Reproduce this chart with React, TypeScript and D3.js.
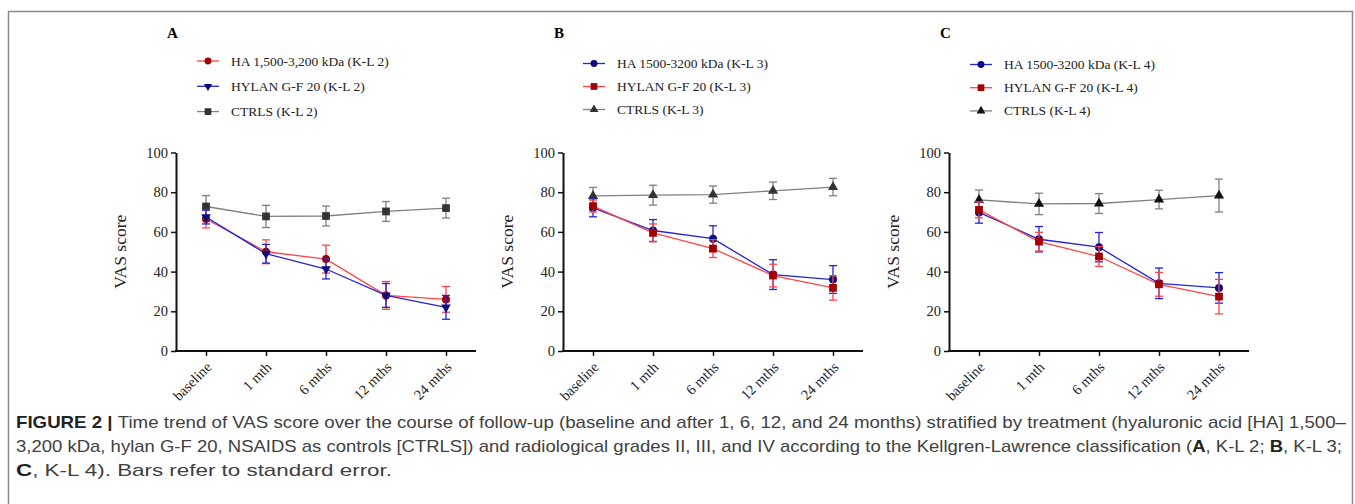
import React, { useEffect, useRef } from 'react';
import * as d3 from 'd3';

// time points shared by all three panels
const timepoints = ['baseline', '1 mth', '6 mths', '12 mths', '24 mths'];
const yTicks = [0, 20, 40, 60, 80, 100];

// Panel A (K-L 2)
const haA = [66.5, 50, 46.3, 28, 26];
const haA_se = [4.5, 6, 7, 7, 6.5];
const hylanA = [67.5, 49, 41.3, 28, 22];
const hylanA_se = [3.5, 4.7, 5, 6, 6];
const ctrlA = [72.8, 67.8, 68, 70.3, 72];
const ctrlA_se = [5.5, 5.6, 5, 5, 5];

// Panel B (K-L 3)
const haB = [72.1, 60.7, 56.6, 38.5, 36];
const haB_se = [4.5, 5.5, 6.5, 7.5, 7];
const hylanB = [73, 59.5, 51.6, 38, 31.8];
const hylanB_se = [3, 4.5, 4.5, 5.7, 6.2];
const ctrlB = [78.1, 78.5, 78.8, 80.7, 82.6];
const ctrlB_se = [4.3, 5, 4.3, 4.4, 4.4];

// Panel C (K-L 4)
const haC = [69.8, 56.3, 52.3, 34.1, 31.8];
const haC_se = [5.4, 6.4, 7.4, 7.7, 7.7];
const hylanC = [71.1, 55.1, 47.6, 33.6, 27.4];
const hylanC_se = [4, 4.7, 5, 6, 8.7];
const ctrlC = [76.1, 74.1, 74.3, 76.3, 78.3];
const ctrlC_se = [5, 5.4, 5, 4.7, 8.3];

const RED_LINE = '#ff4545';
const RED_MARK = '#a00000';
const BLUE_LINE = '#2424d8';
const BLUE_MARK = '#0b0b80';
const GRAY_LINE = '#808080';
const GRAY_MARK = '#333333';

type Series = {
  label: string;
  values: number[];
  se: number[];
  line: string;
  mark: string;
  symbol: d3.SymbolType;
  rotate?: number;
  size: number;
};

type PanelDef = {
  letter: string;
  axisX: number;
  legendX: number;
  legendY: number;
  legendStep: number;
  legendOrder: number[];
  series: Series[]; // drawn in order
};

const panels: PanelDef[] = [
  {
    letter: 'A',
    axisX: 176,
    legendX: 197,
    legendY: 61,
    legendStep: 25.3,
    legendOrder: [1, 2, 0],
    series: [
      { label: 'CTRLS (K-L 2)', values: ctrlA, se: ctrlA_se, line: GRAY_LINE, mark: GRAY_MARK, symbol: d3.symbolSquare, size: 60 },
      { label: 'HA 1,500-3,200 kDa (K-L 2)', values: haA, se: haA_se, line: RED_LINE, mark: RED_MARK, symbol: d3.symbolCircle, size: 50 },
      { label: 'HYLAN G-F 20 (K-L 2)', values: hylanA, se: hylanA_se, line: BLUE_LINE, mark: BLUE_MARK, symbol: d3.symbolTriangle, rotate: 180, size: 40 },
    ],
  },
  {
    letter: 'B',
    axisX: 563,
    legendX: 583,
    legendY: 63.5,
    legendStep: 23,
    legendOrder: [1, 2, 0],
    series: [
      { label: 'CTRLS (K-L 3)', values: ctrlB, se: ctrlB_se, line: GRAY_LINE, mark: GRAY_MARK, symbol: d3.symbolTriangle, size: 45 },
      { label: 'HA 1500-3200 kDa (K-L 3)', values: haB, se: haB_se, line: BLUE_LINE, mark: BLUE_MARK, symbol: d3.symbolCircle, size: 50 },
      { label: 'HYLAN G-F 20 (K-L 3)', values: hylanB, se: hylanB_se, line: RED_LINE, mark: RED_MARK, symbol: d3.symbolSquare, size: 60 },
    ],
  },
  {
    letter: 'C',
    axisX: 949,
    legendX: 970,
    legendY: 64.5,
    legendStep: 23.2,
    legendOrder: [1, 2, 0],
    series: [
      { label: 'CTRLS (K-L 4)', values: ctrlC, se: ctrlC_se, line: GRAY_LINE, mark: '#111111', symbol: d3.symbolTriangle, size: 45 },
      { label: 'HA 1500-3200 kDa (K-L 4)', values: haC, se: haC_se, line: BLUE_LINE, mark: BLUE_MARK, symbol: d3.symbolCircle, size: 50 },
      { label: 'HYLAN G-F 20 (K-L 4)', values: hylanC, se: hylanC_se, line: RED_LINE, mark: RED_MARK, symbol: d3.symbolSquare, size: 60 },
    ],
  },
];

const SERIF = '"Liberation Serif", "DejaVu Serif", serif';
const SANS = '"Liberation Sans", Arial, sans-serif';

function drawPanel(svg: d3.Selection<SVGSVGElement, unknown, null, undefined>, p: PanelDef) {
  const g = svg.append('g').style('font-family', SERIF);
  const y = d3.scaleLinear().domain([0, 100]).range([351, 152.5]);
  const x = d3.scalePoint<string>().domain(timepoints).range([p.axisX + 30, p.axisX + 270]);

  // panel letter
  g.append('text')
    .attr('x', p.axisX - 9)
    .attr('y', 38)
    .style('font-family', SERIF)
    .attr('font-weight', 'bold')
    .attr('font-size', 15)
    .text(p.letter);

  // y axis
  const yAxis = g.append('g')
    .attr('transform', `translate(${p.axisX},0)`)
    .call(d3.axisLeft(y).tickValues(yTicks).tickSize(5).tickPadding(3).tickSizeOuter(0));
  yAxis.attr('font-family', null);
  yAxis.select('.domain').attr('stroke', '#111').attr('stroke-width', 2);
  yAxis.selectAll('.tick line').attr('stroke', '#111').attr('stroke-width', 1.5);
  yAxis.selectAll('.tick text')
    .style('font-family', SERIF)
    .style('font-size', '14.5px')
    .attr('fill', '#222');

  // x axis
  const xAxis = g.append('g')
    .attr('transform', `translate(0,${y(0)})`)
    .call(d3.axisBottom(x).tickSize(5).tickSizeOuter(0));
  xAxis.attr('font-family', null);
  xAxis.select('.domain')
    .attr('d', `M${p.axisX - 1},0H${p.axisX + 300}`)
    .attr('stroke', '#111')
    .attr('stroke-width', 2);
  xAxis.selectAll('.tick line').attr('stroke', '#111').attr('stroke-width', 1.5);
  xAxis.selectAll('.tick text')
    .style('font-family', SERIF)
    .style('font-size', '14.5px')
    .attr('fill', '#222')
    .attr('text-anchor', 'end')
    .attr('dy', 0)
    .attr('y', 0)
    .attr('transform', 'translate(6,17) rotate(-45)');

  // y label
  g.append('text')
    .attr('transform', `translate(${p.axisX - 50},${y(50)}) rotate(-90)`)
    .attr('text-anchor', 'middle')
    .style('font-family', SERIF)
    .style('font-size', '17.5px')
    .attr('fill', '#222')
    .text('VAS score');

  const line = d3.line<number>()
    .x((_, i) => x(timepoints[i]) as number)
    .y(d => y(d));

  p.series.forEach(s => {
    const sg = g.append('g');
    sg.append('path')
      .datum(s.values)
      .attr('fill', 'none')
      .attr('stroke', s.line)
      .attr('stroke-width', 1.3)
      .attr('d', line);

    s.values.forEach((v, i) => {
      const cx = x(timepoints[i]) as number;
      const top = y(v + s.se[i]);
      const bot = y(v - s.se[i]);
      const eb = sg.append('g').attr('stroke', s.line).attr('stroke-width', 1.3);
      eb.append('line').attr('x1', cx).attr('x2', cx).attr('y1', top).attr('y2', bot);
      eb.append('line').attr('x1', cx - 4).attr('x2', cx + 4).attr('y1', top).attr('y2', top);
      eb.append('line').attr('x1', cx - 4).attr('x2', cx + 4).attr('y1', bot).attr('y2', bot);
    });

    sg.selectAll('path.mk')
      .data(s.values)
      .join('path')
      .attr('class', 'mk')
      .attr('d', d3.symbol().type(s.symbol).size(s.size)() as string)
      .attr('transform', (d, i) => `translate(${x(timepoints[i])},${y(d)}) rotate(${s.rotate ?? 0})`)
      .attr('fill', s.mark);
  });

  // legend
  p.legendOrder.forEach((si, k) => {
    const s = p.series[si];
    const ly = p.legendY + k * p.legendStep;
    const lg = g.append('g');
    lg.append('line')
      .attr('x1', p.legendX).attr('x2', p.legendX + 22)
      .attr('y1', ly).attr('y2', ly)
      .attr('stroke', s.line).attr('stroke-width', 1.3);
    lg.append('path')
      .attr('d', d3.symbol().type(s.symbol).size(s.size * 0.75)() as string)
      .attr('transform', `translate(${p.legendX + 11},${ly}) rotate(${s.rotate ?? 0})`)
      .attr('fill', s.mark);
    lg.append('text')
      .attr('x', p.legendX + 34)
      .attr('y', ly + 4.5)
      .style('font-family', SERIF)
      .style('font-size', '13.5px')
      .attr('fill', '#222')
      .text(s.label);
  });
}

export default function App() {
  const ref = useRef<SVGSVGElement>(null);

  useEffect(() => {
    const svg = d3.select(ref.current as SVGSVGElement);
    svg.selectAll('*').remove();

    // frame
    svg.append('path')
      .attr('d', 'M8.5,520V11.5H1352.5V520')
      .attr('fill', 'none')
      .attr('stroke', '#8a8a8a')
      .attr('stroke-width', 1.5);

    panels.forEach(p => drawPanel(svg, p));

    // caption
    const cap = svg.append('g')
      .style('font-family', SANS)
      .style('font-size', '17px')
      .attr('fill', '#404040');

    const l1 = cap.append('text').attr('x', 16).attr('y', 428)
      .attr('textLength', 1330).attr('lengthAdjust', 'spacingAndGlyphs');
    l1.append('tspan').attr('font-weight', 'bold').attr('fill', '#222').text('FIGURE 2 | ');
    l1.append('tspan').text('Time trend of VAS score over the course of follow-up (baseline and after 1, 6, 12, and 24 months) stratified by treatment (hyaluronic acid [HA] 1,500–');

    const l2 = cap.append('text').attr('x', 16).attr('y', 452)
      .attr('textLength', 1326).attr('lengthAdjust', 'spacingAndGlyphs');
    l2.append('tspan').text('3,200 kDa, hylan G-F 20, NSAIDS as controls [CTRLS]) and radiological grades II, III, and IV according to the Kellgren-Lawrence classification (');
    l2.append('tspan').attr('font-weight', 'bold').attr('fill', '#222').text('A');
    l2.append('tspan').text(', K-L 2; ');
    l2.append('tspan').attr('font-weight', 'bold').attr('fill', '#222').text('B');
    l2.append('tspan').text(', K-L 3;');

    const l3 = cap.append('text').attr('x', 16).attr('y', 476)
      .attr('textLength', 376).attr('lengthAdjust', 'spacingAndGlyphs');
    l3.append('tspan').attr('font-weight', 'bold').attr('fill', '#222').text('C');
    l3.append('tspan').text(', K-L 4). Bars refer to standard error.');

    return () => {
      svg.selectAll('*').remove();
    };
  }, []);

  return (
    <svg
      ref={ref}
      width={1355}
      height={504}
      style={{ position: 'absolute', left: 0, top: 0, background: '#fff' }}
    />
  );
}
